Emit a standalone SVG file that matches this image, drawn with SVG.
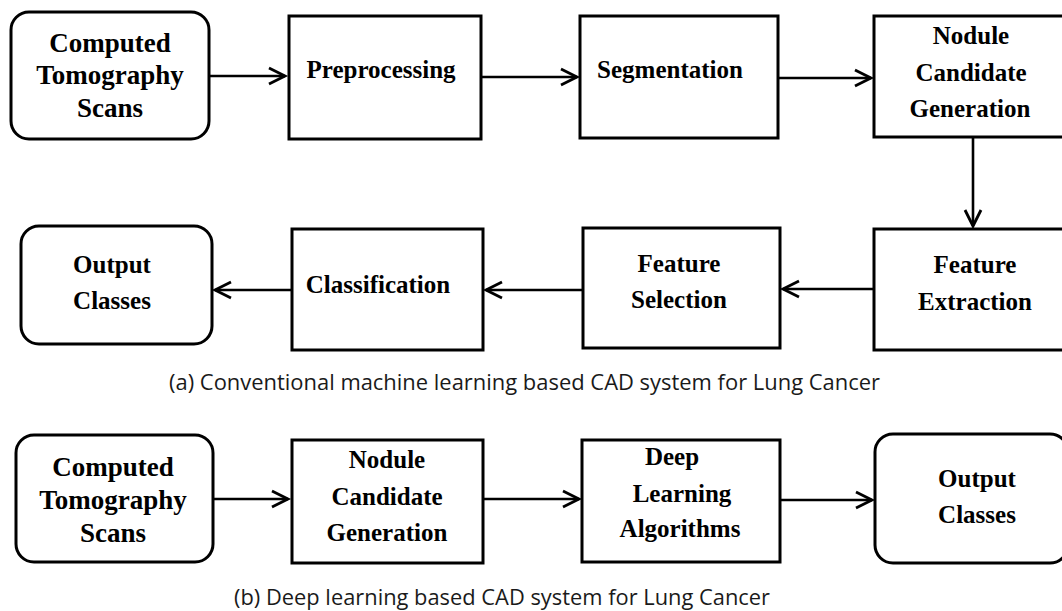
<svg xmlns="http://www.w3.org/2000/svg" width="1062" height="611" viewBox="0 0 1062 611">
<style>
  .box { fill: #fff; stroke: #000; stroke-width: 3; }
  .lbl { font-family: "Liberation Serif", "Times New Roman", serif; font-weight: bold; font-size: 25px; fill: #000; text-anchor: middle; }
  .big { font-size: 27px; }
  .cap { font-family: "Open Sans", "Noto Sans", sans-serif; font-size: 21px; fill: #1a1a1a; }
  .conn { stroke: #000; stroke-width: 2.6; fill: none; marker-end: url(#arr); }
</style>
<defs>
  <marker id="arr" markerUnits="userSpaceOnUse" markerWidth="22" markerHeight="22" refX="18" refY="10" orient="auto">
    <path d="M2,2 L18,10 L2,18" fill="none" stroke="#000" stroke-width="2.8" stroke-linejoin="miter"/>
  </marker>
</defs>
<rect width="1062" height="611" fill="#fff"/>

<g id="connectors">
  <line class="conn" x1="209" y1="76" x2="285" y2="76"/>
  <line class="conn" x1="481" y1="77" x2="577" y2="77"/>
  <line class="conn" x1="778" y1="78" x2="871" y2="78"/>
  <line class="conn" x1="973" y1="137" x2="973" y2="226"/>
  <line class="conn" x1="874" y1="289" x2="783" y2="289"/>
  <line class="conn" x1="583" y1="290" x2="486" y2="290"/>
  <line class="conn" x1="292" y1="290" x2="215" y2="290"/>
  <line class="conn" x1="213" y1="499" x2="288" y2="499"/>
  <line class="conn" x1="483" y1="499" x2="579" y2="499"/>
  <line class="conn" x1="780" y1="500" x2="872" y2="500"/>
</g>

<g id="ct_a">
  <rect class="box" x="11" y="12" width="198" height="127" rx="18"/>
  <text class="lbl big" x="110" y="52">Computed</text>
  <text class="lbl big" x="110" y="84">Tomography</text>
  <text class="lbl big" x="110" y="117">Scans</text>
</g>
<g id="preprocessing">
  <rect class="box" x="289" y="16" width="192" height="123"/>
  <text class="lbl" x="381" y="78">Preprocessing</text>
</g>
<g id="segmentation">
  <rect class="box" x="580" y="16" width="198" height="122"/>
  <text class="lbl" x="670" y="78">Segmentation</text>
</g>
<g id="nodule_a">
  <rect class="box" x="874" y="16" width="194" height="121"/>
  <text class="lbl" x="971" y="44">Nodule</text>
  <text class="lbl" x="971" y="81">Candidate</text>
  <text class="lbl" x="970" y="117">Generation</text>
</g>
<g id="output_a">
  <rect class="box" x="21" y="226" width="191" height="118" rx="18"/>
  <text class="lbl" x="112" y="273">Output</text>
  <text class="lbl" x="112" y="309">Classes</text>
</g>
<g id="classification">
  <rect class="box" x="292" y="229" width="191" height="121"/>
  <text class="lbl" x="378" y="293">Classification</text>
</g>
<g id="feature_selection">
  <rect class="box" x="583" y="228" width="197" height="120"/>
  <text class="lbl" x="679" y="272">Feature</text>
  <text class="lbl" x="679" y="308">Selection</text>
</g>
<g id="feature_extraction">
  <rect class="box" x="874" y="229" width="194" height="121"/>
  <text class="lbl" x="975" y="273">Feature</text>
  <text class="lbl" x="975" y="310">Extraction</text>
</g>

<g id="caption_a">
  <text class="cap" x="169" y="390" textLength="711" lengthAdjust="spacingAndGlyphs">(a) Conventional machine learning based CAD system for Lung Cancer</text>
</g>

<g id="ct_b">
  <rect class="box" x="16" y="435" width="197" height="127" rx="18"/>
  <text class="lbl big" x="113" y="476">Computed</text>
  <text class="lbl big" x="113" y="509">Tomography</text>
  <text class="lbl big" x="113" y="542">Scans</text>
</g>
<g id="nodule_b">
  <rect class="box" x="292" y="440" width="191" height="123"/>
  <text class="lbl" x="387" y="468">Nodule</text>
  <text class="lbl" x="387" y="505">Candidate</text>
  <text class="lbl" x="387" y="541">Generation</text>
</g>
<g id="deep_learning">
  <rect class="box" x="582" y="440" width="198" height="122"/>
  <text class="lbl" x="672" y="465">Deep</text>
  <text class="lbl" x="682" y="502">Learning</text>
  <text class="lbl" x="680" y="537">Algorithms</text>
</g>
<g id="output_b">
  <rect class="box" x="875" y="434" width="193" height="129" rx="18"/>
  <text class="lbl" x="977" y="487">Output</text>
  <text class="lbl" x="977" y="523">Classes</text>
</g>

<g id="caption_b">
  <text class="cap" x="234" y="605" textLength="536" lengthAdjust="spacingAndGlyphs">(b) Deep learning based CAD system for Lung Cancer</text>
</g>
</svg>
